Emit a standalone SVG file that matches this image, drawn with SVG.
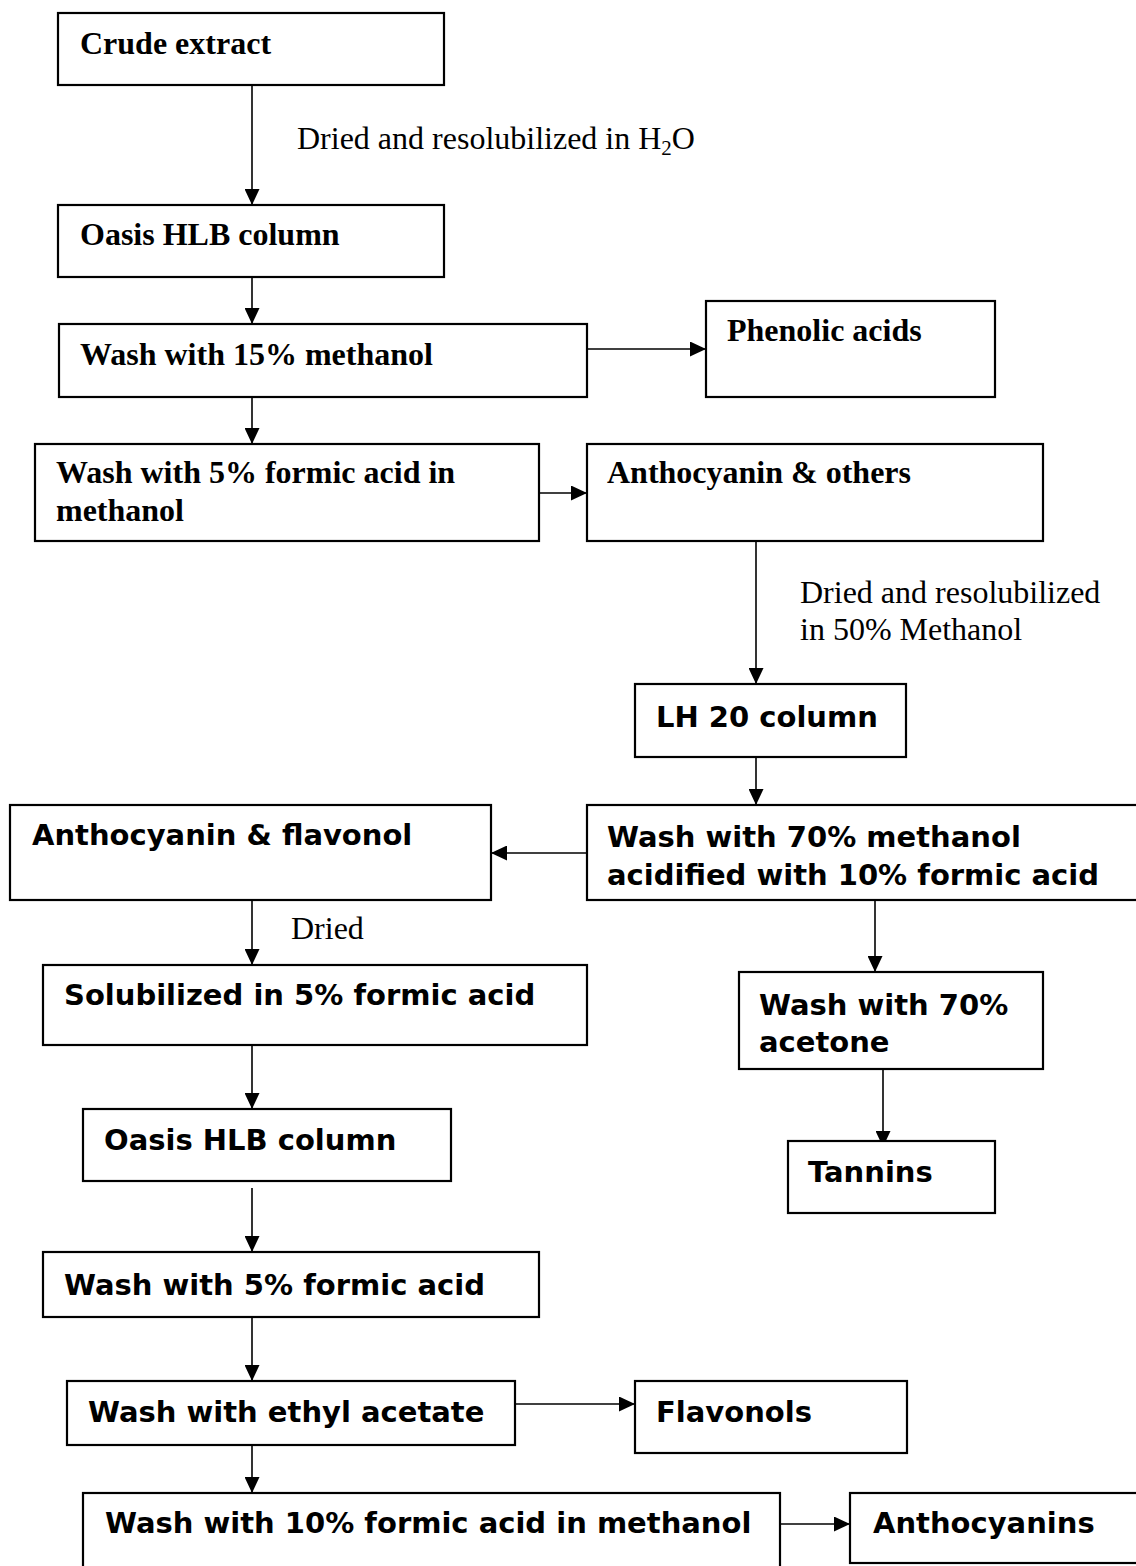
<svg xmlns="http://www.w3.org/2000/svg" width="1136" height="1566" viewBox="0 0 1136 1566">
<defs>
<marker id="ah" markerWidth="16" markerHeight="15" refX="16" refY="7.5" orient="auto" markerUnits="userSpaceOnUse">
<path d="M0,0 L16,7.5 L0,15 Z" fill="#000"/>
</marker>
<style>
.box{fill:#fff;stroke:#000;stroke-width:2.2}
.sb{font-family:"Liberation Serif","Times New Roman",serif;font-weight:bold;font-size:32px;fill:#000}
.sr{font-family:"Liberation Serif","Times New Roman",serif;font-size:32px;fill:#000}
.ss{font-family:"DejaVu Sans",Verdana,sans-serif;font-weight:bold;font-size:29px;fill:#000}
.c{stroke:#000;stroke-width:1.6;fill:none;marker-end:url(#ah)}
</style>
</defs>
<rect width="1136" height="1566" fill="#fff"/>
<g id="connectors">
<line class="c" x1="252" y1="85" x2="252" y2="205"/>
<line class="c" x1="252" y1="277" x2="252" y2="324"/>
<line class="c" x1="252" y1="397" x2="252" y2="444"/>
<line class="c" x1="587" y1="349" x2="706" y2="349"/>
<line class="c" x1="539" y1="493" x2="587" y2="493"/>
<line class="c" x1="756" y1="541" x2="756" y2="684"/>
<line class="c" x1="756" y1="757" x2="756" y2="805"/>
<line class="c" x1="587" y1="853" x2="491" y2="853"/>
<line class="c" x1="252" y1="900" x2="252" y2="965"/>
<line class="c" x1="875" y1="900" x2="875" y2="972"/>
<line class="c" x1="252" y1="1045" x2="252" y2="1109"/>
<line class="c" x1="883" y1="1069" x2="883" y2="1147"/>
<line class="c" x1="252" y1="1188" x2="252" y2="1252"/>
<line class="c" x1="252" y1="1317" x2="252" y2="1381"/>
<line class="c" x1="515" y1="1404" x2="635" y2="1404"/>
<line class="c" x1="252" y1="1445" x2="252" y2="1493"/>
<line class="c" x1="780" y1="1524" x2="850" y2="1524"/>
<text class="sr" x="297" y="149">Dried and resolubilized in H<tspan font-size="21" dy="6">2</tspan><tspan dy="-6">O</tspan></text>
<text class="sr" x="800" y="603">Dried and resolubilized</text>
<text class="sr" x="800" y="640">in 50% Methanol</text>
<text class="sr" x="291" y="939">Dried</text>
</g>
<g id="crude"><rect class="box" x="58" y="13" width="386" height="72"/><text class="sb" x="80" y="54">Crude extract</text></g>
<g id="oasis1"><rect class="box" x="58" y="205" width="386" height="72"/><text class="sb" x="80" y="245">Oasis HLB column</text></g>
<g id="wash15"><rect class="box" x="59" y="324" width="528" height="73"/><text class="sb" x="80" y="365">Wash with 15% methanol</text></g>
<g id="phenolic"><rect class="box" x="706" y="301" width="289" height="96"/><text class="sb" x="727" y="341">Phenolic acids</text></g>
<g id="wash5fa"><rect class="box" x="35" y="444" width="504" height="97"/><text class="sb" x="56" y="483">Wash with 5% formic acid in</text><text class="sb" x="56" y="521">methanol</text></g>
<g id="anthoothers"><rect class="box" x="587" y="444" width="456" height="97"/><text class="sb" x="607" y="483">Anthocyanin &amp; others</text></g>
<g id="lh20"><rect class="box" x="635" y="684" width="271" height="73"/><text class="ss" x="656" y="727">LH 20 column</text></g>
<g id="wash70"><rect class="box" x="587" y="805" width="560" height="95"/><text class="ss" x="607" y="847">Wash with 70% methanol</text><text class="ss" x="607" y="885">acidified with 10% formic acid</text></g>
<g id="anthoflav"><rect class="box" x="10" y="805" width="481" height="95"/><text class="ss" x="32" y="845">Anthocyanin &amp; flavonol</text></g>
<g id="solub"><rect class="box" x="43" y="965" width="544" height="80"/><text class="ss" x="64" y="1005">Solubilized in 5% formic acid</text></g>
<g id="acetone"><rect class="box" x="739" y="972" width="304" height="97"/><text class="ss" x="759" y="1015">Wash with 70%</text><text class="ss" x="759" y="1052">acetone</text></g>
<g id="tannins"><rect class="box" x="788" y="1141" width="207" height="72"/><text class="ss" x="808" y="1182">Tannins</text></g>
<g id="oasis2"><rect class="box" x="83" y="1109" width="368" height="72"/><text class="ss" x="104" y="1150">Oasis HLB column</text></g>
<g id="wash5"><rect class="box" x="43" y="1252" width="496" height="65"/><text class="ss" x="64" y="1295">Wash with 5% formic acid</text></g>
<g id="ethyl"><rect class="box" x="67" y="1381" width="448" height="64"/><text class="ss" x="88" y="1422">Wash with ethyl acetate</text></g>
<g id="flavonols"><rect class="box" x="635" y="1381" width="272" height="72"/><text class="ss" x="656" y="1422">Flavonols</text></g>
<g id="wash10"><rect class="box" x="83" y="1493" width="697" height="90"/><text class="ss" x="105" y="1533">Wash with 10% formic acid in methanol</text></g>
<g id="anthocyanins"><rect class="box" x="850" y="1493" width="300" height="70"/><text class="ss" x="873" y="1533">Anthocyanins</text></g>
</svg>
